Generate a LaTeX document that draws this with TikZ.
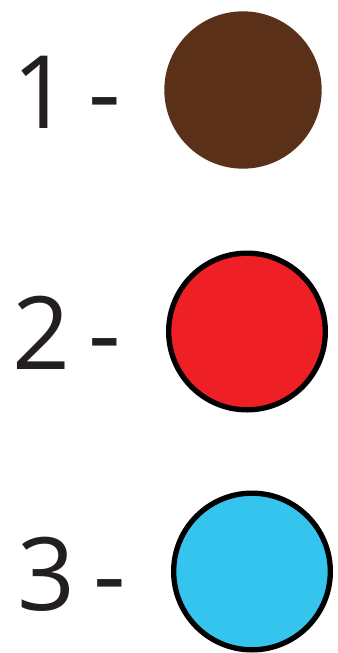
\documentclass[tikz,border=0pt]{standalone}
\usepackage{fontspec}
\setmainfont[WordSpace=0.68]{Open Sans}
\usetikzlibrary{shapes.geometric}
\definecolor{txtgray}{RGB}{35,31,32}
\definecolor{dotbrown}{RGB}{90,48,24}
\definecolor{dotred}{RGB}{238,32,37}
\definecolor{dotblue}{RGB}{53,196,238}
\tikzset{
  numlabel/.style={anchor=base west,inner sep=0pt,text=txtgray,font=\fontsize{76}{76}\selectfont},
  dot/.style={circle,inner sep=0pt,minimum size=118pt},
  rimdot/.style={dot,draw=black,line width=4pt,minimum size=117.5pt}
}
\begin{document}
\begin{tikzpicture}[x=0.75pt,y=0.75pt,yscale=-1,xscale=1]
\useasboundingbox (0,0) rectangle (337,653);

%Shape: Circle [id:dot1]
\node [dot,fill=dotbrown] (dot1) at (243,90) {};
%Shape: Circle [id:dot2]
\node [rimdot,fill=dotred] (dot2) at (247,331.5) {};
%Shape: Circle [id:dot3]
\node [rimdot,fill=dotblue] (dot3) at (252,571.5) {};

% Text Node
\draw (12,128) node [numlabel] (lab1) {1 -};
% Text Node
\draw (12,369) node [numlabel] (lab2) {2 -};
% Text Node
\draw (17,610) node [numlabel] (lab3) {3 -};

\end{tikzpicture}
\end{document}
